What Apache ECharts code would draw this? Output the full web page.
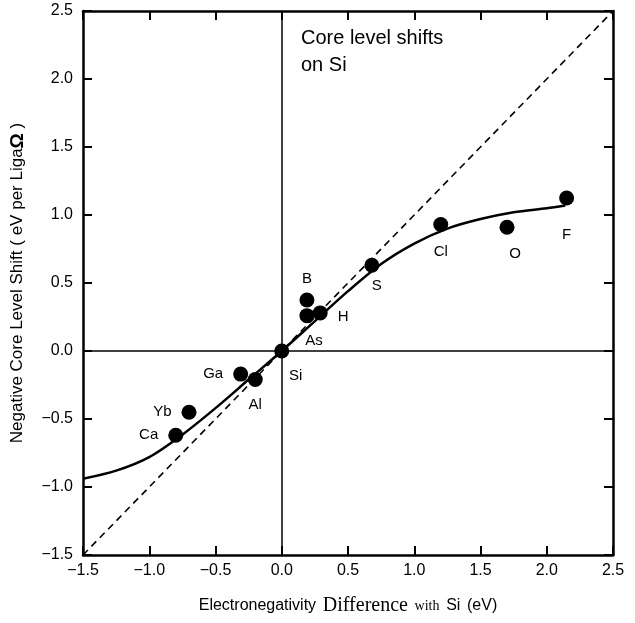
<!DOCTYPE html>
<html>
<head>
<meta charset="utf-8">
<script src="https://cdn.jsdelivr.net/npm/echarts@6/dist/echarts.min.js"></script>
<style>
html,body{margin:0;padding:0;background:#fff;}
#c{width:635px;height:623px;}
</style>
</head>
<body>
<div id="c"></div>
<script>
// ---- data ----
var elements = ['Ca','Yb','Ga','Al','Si','B','As','H','S','Cl','O','F'];
var enDiff   = [-0.80,-0.70,-0.31,-0.20,0.00,0.19,0.19,0.29,0.68,1.20,1.70,2.15];
var shift    = [-0.62,-0.45,-0.17,-0.21,0.00,0.375,0.26,0.28,0.63,0.93,0.91,1.125];

var curveX = [-1.5,-1.25,-1.0,-0.75,-0.5,-0.25,0.0,0.25,0.5,0.75,1.0,1.25,1.5,1.75,2.0,2.14];
var curveY = [-0.94,-0.88,-0.78,-0.615,-0.42,-0.21,0.0,0.22,0.44,0.64,0.79,0.90,0.97,1.02,1.05,1.07];

var diagX = [-1.5, 2.5];
var diagY = [-1.5, 2.5];

// ---- label placement (style) ----
var labelStyle = {
  Ca:{position:'left',distance:10},
  Yb:{position:'left',distance:10},
  Ga:{position:'left',distance:10},
  Al:{position:'bottom',distance:10},
  Si:{position:'bottom',offset:[14,2],distance:8},
  B:{position:'top',distance:6},
  As:{position:'bottom',offset:[7,2],distance:8},
  H:{position:'right',offset:[2,4],distance:8},
  S:{position:'bottom',offset:[5,0],distance:6},
  Cl:{position:'bottom',distance:12},
  O:{position:'bottom',offset:[8,0],distance:12},
  F:{position:'bottom',distance:22}
};

var pts = elements.map(function(n,i){
  var ls = labelStyle[n];
  return {name:n, value:[enDiff[i], shift[i]], label:Object.assign({show:true, formatter:n}, ls)};
});

var font = 'Liberation Sans, Arial, sans-serif';
var serif = 'Liberation Serif, Times New Roman, serif';
var fmt = function(v){ return (v<0?'\u2212':'') + Math.abs(v).toFixed(1); };

var chart = echarts.init(document.getElementById('c'), null, {renderer:'canvas'});
var axCommon = {
  type:'value', min:-1.5, max:2.5, interval:0.5,
  splitLine:{show:false},
  axisLine:{show:true, onZero:false, lineStyle:{color:'#000', width:2.5}},
  axisTick:{show:true, inside:true, length:9, lineStyle:{color:'#000', width:2}}
};
chart.setOption({
  animation:false,
  backgroundColor:'#fff',
  grid:{left:82, right:22, top:11, bottom:68, show:false},
  xAxis:[
    Object.assign({}, axCommon, {
      position:'bottom',
      axisLabel:{color:'#000', fontSize:16, fontFamily:font, margin:8, formatter:fmt},
      name:'{a|Electronegativity}  {b|Difference}  {c|with}  {a|Si}  {a|(eV)}',
      nameLocation:'middle', nameGap:41,
      nameTextStyle:{rich:{
        a:{fontFamily:font, fontSize:16, color:'#000'},
        b:{fontFamily:serif, fontSize:20, color:'#000'},
        c:{fontFamily:serif, fontSize:14, color:'#000'}
      }}
    }),
    Object.assign({}, axCommon, {position:'top', axisLabel:{show:false}})
  ],
  yAxis:[
    Object.assign({}, axCommon, {
      position:'left',
      axisLabel:{color:'#000', fontSize:16, fontFamily:font, margin:10, formatter:fmt},
      name:'Negative Core Level Shift ( eV per Liga{o|Ω} )',
      nameLocation:'middle', nameGap:56, nameRotate:90,
      nameTextStyle:{fontFamily:font, fontSize:17, color:'#000',
        rich:{o:{fontFamily:font, fontSize:19, fontWeight:'bold', color:'#000'}}}
    }),
    Object.assign({}, axCommon, {position:'right', axisLabel:{show:false}})
  ],
  graphic:[
    {type:'text', left:301, top:28, style:{text:'Core level shifts', font:'20px '+font, fill:'#000'}},
    {type:'text', left:301, top:55, style:{text:'on Si', font:'20px '+font, fill:'#000'}}
  ],
  series:[
    {
      type:'line', data:diagX.map(function(x,i){return [x, diagY[i]];}),
      showSymbol:false, lineStyle:{color:'#000', width:1.6, type:[7,5]}, silent:true,
      markLine:{
        silent:true, symbol:'none', label:{show:false},
        lineStyle:{color:'#000', width:1.5, type:'solid'},
        data:[{xAxis:0},{yAxis:0}]
      }
    },
    {
      type:'line', data:curveX.map(function(x,i){return [x, curveY[i]];}),
      smooth:0.3, showSymbol:false, lineStyle:{color:'#000', width:2.5}, silent:true
    },
    {
      type:'scatter', data:pts, symbolSize:15, itemStyle:{color:'#000', opacity:1},
      label:{color:'#000', fontSize:15, fontFamily:font}
    }
  ]
});
</script>
</body>
</html>
